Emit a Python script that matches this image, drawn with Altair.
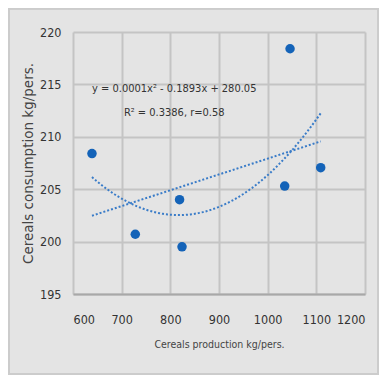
import altair as alt
import pandas as pd

production = [639, 728, 819, 824, 1035, 1046, 1109]
consumption = [208.4, 200.7, 204.0, 199.5, 205.3, 218.4, 207.05]

eq_lines = ["y = 0.0001x² - 0.1893x + 280.05", "R² = 0.3386, r=0.58"]
eq_x = [808, 808]
eq_y = [214.6, 212.3]

df = pd.DataFrame({"prod": production, "cons": consumption})
tdf = pd.DataFrame({"t": eq_lines, "x": eq_x, "y": eq_y})

FONT = "DejaVu Sans Condensed, Roboto, sans-serif"

xs = alt.Scale(domain=[600, 1200], nice=False, zero=False)
ys = alt.Scale(domain=[195, 220], nice=False, zero=False)

xenc = alt.X("prod:Q", scale=xs, title="Cereals production kg/pers.",
             axis=alt.Axis(values=[600, 700, 800, 900, 1000, 1100, 1200], format="d", grid=True,
                           gridColor="#c4c4c4", gridWidth=2, domainColor="#a8a8a8",
                           domainWidth=2, ticks=False, labelPadding=19,
                           labelFont=FONT, labelFontSize=12.5, labelColor="#333333",
                           titleFont=FONT, titleFontSize=10.5, titleFontWeight="normal",
                           titleColor="#444444", titlePadding=14))
yenc = alt.Y("cons:Q", scale=ys, title="Cereals consumption kg/pers.",
             axis=alt.Axis(values=[195, 200, 205, 210, 215, 220], grid=True,
                           gridColor="#c4c4c4", gridWidth=2, domain=False,
                           ticks=False, labelPadding=12,
                           labelFont=FONT, labelFontSize=12.5, labelColor="#333333",
                           titleFont="DejaVu Sans", titleFontSize=13.5,
                           titleFontWeight="normal", titleColor="#444444",
                           titlePadding=4))

base = alt.Chart(df)

pts = base.mark_point(filled=True, opacity=1, color="#1463b8", size=90).encode(x=xenc, y=yenc)

lin = base.transform_regression("prod", "cons", method="linear").mark_line(
    color="#3a7cc8", strokeDash=[2, 2], strokeWidth=2).encode(x="prod:Q", y="cons:Q")
poly = base.transform_regression("prod", "cons", method="poly", order=2).mark_line(
    color="#3a7cc8", strokeDash=[2, 2], strokeWidth=2).encode(x="prod:Q", y="cons:Q")

txt = alt.Chart(tdf).mark_text(font=FONT, fontSize=11, color="#333333").encode(
    x=alt.X("x:Q", scale=xs), y=alt.Y("y:Q", scale=ys), text="t:N")

border = alt.Chart(df).mark_rect(fill=None, stroke="#cccccc", strokeWidth=1.5).encode(
    x=alt.value(-64), x2=alt.value(305), y=alt.value(-23.5), y2=alt.value(342))

chart = alt.layer(border, lin, poly, pts, txt).properties(
    width=292, height=262, autosize="none",
    padding={"left": 65, "top": 24, "right": 14, "bottom": 81},
    background="#e4e4e4",
).configure_view(stroke=None)

chart.save("out.html", embed_options={"renderer": "svg", "actions": False})
